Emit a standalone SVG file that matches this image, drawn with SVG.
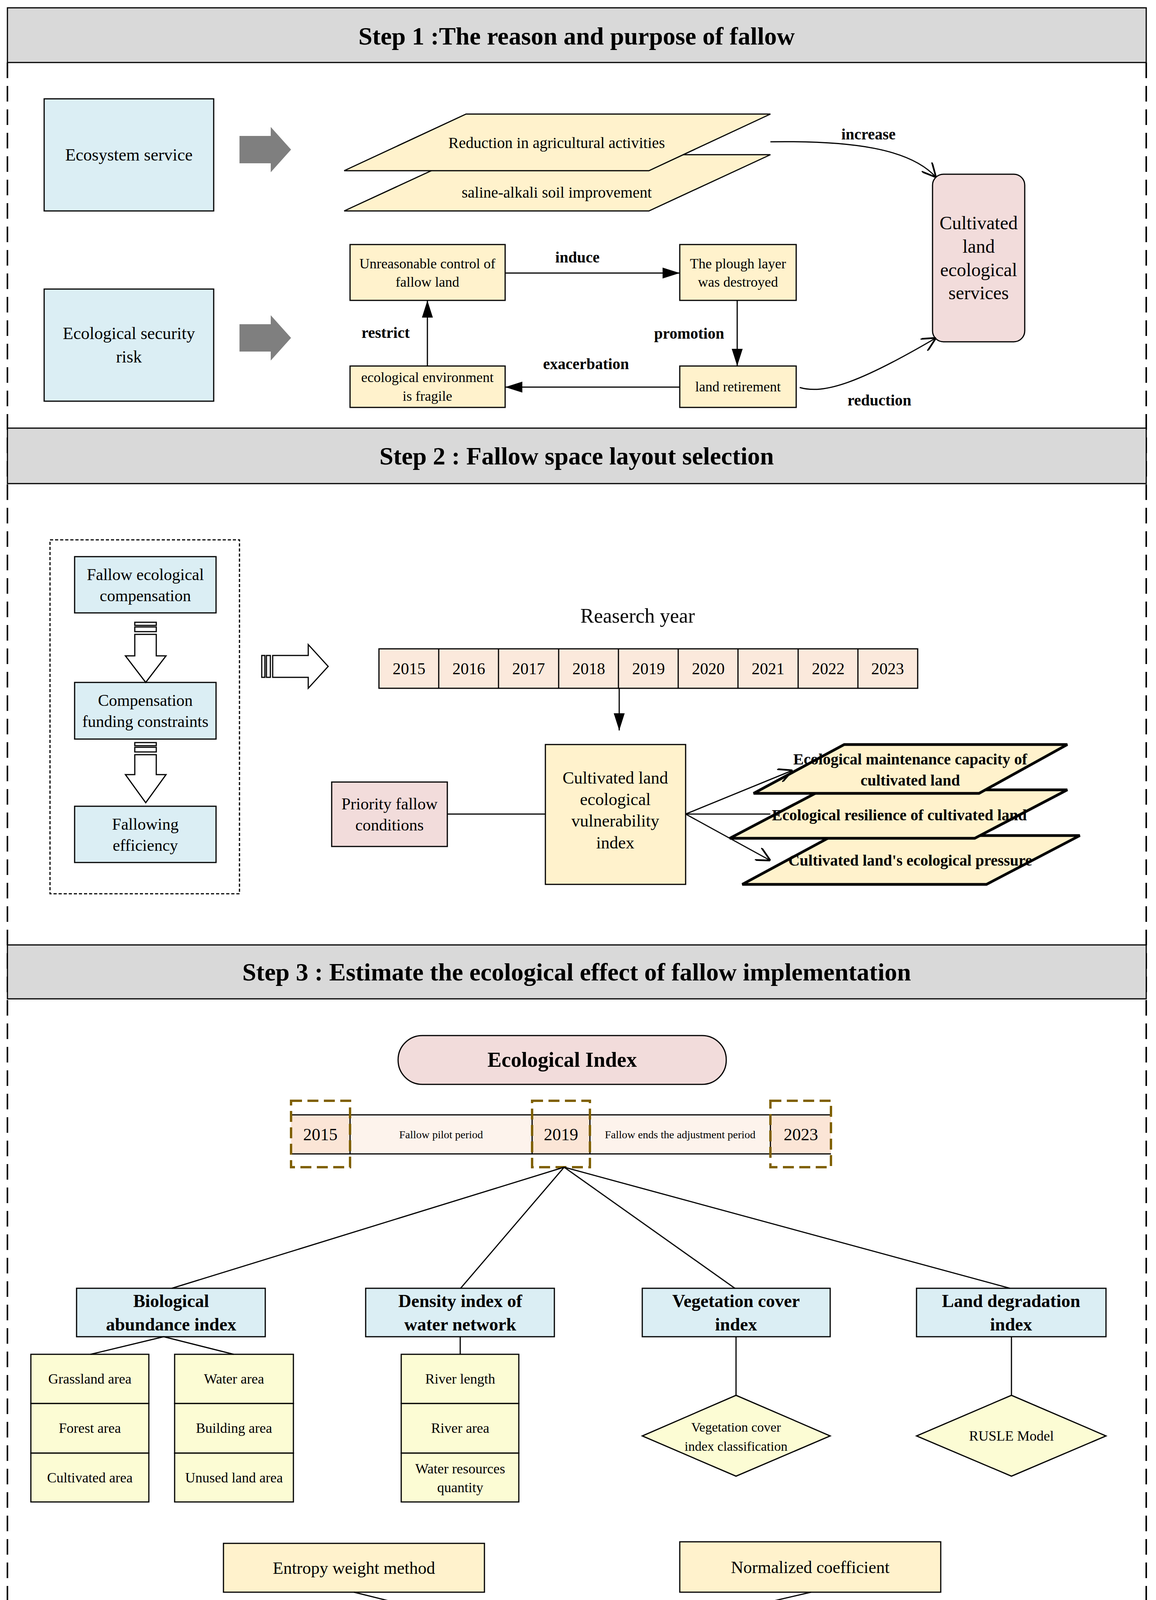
<svg xmlns="http://www.w3.org/2000/svg" width="2959" height="5550" viewBox="0 0 2959 5550">
<defs>
<style>
text{font-family:"Liberation Serif","Times New Roman",serif;text-anchor:middle;dominant-baseline:central;fill:#000}
.hd{fill:#d9d9d9;stroke:#000;stroke-width:3}
.ht{font-size:64px;font-weight:bold}
.blue{fill:#dbeef4;stroke:#000;stroke-width:3}
.yel{fill:#fff2cc;stroke:#000;stroke-width:3}
.ly{fill:#fcfcd4;stroke:#000;stroke-width:3}
.pink{fill:#f2dcdb;stroke:#000;stroke-width:3}
.peach{fill:#fbe9dc;stroke:#000;stroke-width:3}
.ln{fill:none;stroke:#000;stroke-width:3}
.thk{fill:none;stroke:#000;stroke-width:6}
.b{font-weight:bold}
.dash{fill:none;stroke:#000;stroke-width:4;stroke-dasharray:40 20}
.brown{fill:none;stroke:#7f6000;stroke-width:6;stroke-dasharray:28 14}
.hollow{fill:#fff;stroke:#000;stroke-width:3}
</style>
<marker id="ab" viewBox="0 0 10 10" refX="10" refY="5" markerWidth="44" markerHeight="28" markerUnits="userSpaceOnUse" orient="auto" preserveAspectRatio="none"><path d="M0,0 L10,5 L0,10 z" fill="#000"/></marker>
<marker id="ao" viewBox="0 0 10 10" refX="10" refY="5" markerWidth="36" markerHeight="36" markerUnits="userSpaceOnUse" orient="auto"><path d="M0,0 L10,5 L0,10" fill="none" stroke="#000" stroke-width="1.2"/></marker>
</defs>
<rect width="2959" height="5550" fill="#fff"/>
<g id="frame">
<line class="dash" x1="19" y1="160" x2="19" y2="5520"/>
<line class="dash" x1="2934" y1="160" x2="2934" y2="5520"/>
<line class="dash" x1="19" y1="5520" x2="2934" y2="5520"/>
</g>
<g id="header1"><rect class="hd" x="19" y="20" width="2915" height="140"/><text class="ht" x="1476" y="92">Step 1 :The reason and purpose of fallow</text></g>
<g id="header2"><rect class="hd" x="19" y="1096" width="2915" height="142"/><text class="ht" x="1476" y="1167">Step 2 : Fallow space layout selection</text></g>
<g id="header3"><rect class="hd" x="19" y="2419" width="2915" height="138"/><text class="ht" x="1476" y="2488">Step 3 : Estimate the ecological effect of fallow implementation</text></g>

<g id="ecoservice"><rect class="blue" x="113" y="253" width="434" height="287"/><text x="330" y="396" font-size="44">Ecosystem service</text></g>
<g id="ecorisk"><rect class="blue" x="113" y="740" width="434" height="287"/><text x="330" y="853" font-size="44">Ecological security</text><text x="330" y="913" font-size="44">risk</text></g>
<g id="grayarrow1"><path d="M613,348 H693 V325 L745,383 L693,441 V418 H613 Z" fill="#7f7f7f"/></g>
<g id="grayarrow2"><path d="M613,830 H693 V807 L745,865 L693,923 V900 H613 Z" fill="#7f7f7f"/></g>
<g id="saline"><path class="yel" d="M881,540 L1193,396 L1972,396 L1661,540 Z"/><text x="1425" y="492" font-size="40">saline-alkali soil improvement</text></g>
<g id="reduction"><path class="yel" d="M881,437 L1193,292 L1972,292 L1661,437 Z"/><text x="1425" y="365" font-size="40">Reduction in agricultural activities</text></g>
<g id="cles"><rect class="pink" x="2387" y="446" width="236" height="429" rx="28"/><text x="2505" y="570" font-size="48">Cultivated</text><text x="2505" y="630" font-size="48">land</text><text x="2505" y="690" font-size="48">ecological</text><text x="2505" y="749" font-size="48">services</text></g>
<g id="unreasonable"><rect class="yel" x="896" y="626" width="397" height="143"/><text x="1094" y="675" font-size="36">Unreasonable control of</text><text x="1094" y="722" font-size="36">fallow land</text></g>
<g id="plough"><rect class="yel" x="1740" y="626" width="298" height="143"/><text x="1889" y="675" font-size="36">The plough layer</text><text x="1889" y="722" font-size="36">was destroyed</text></g>
<g id="retire"><rect class="yel" x="1740" y="937" width="298" height="106"/><text x="1889" y="990" font-size="36">land retirement</text></g>
<g id="fragile"><rect class="yel" x="896" y="937" width="397" height="106"/><text x="1094" y="966" font-size="36">ecological environment</text><text x="1094" y="1014" font-size="36">is fragile</text></g>

<g id="dotbox"><rect x="128" y="1382" width="485" height="906" fill="none" stroke="#000" stroke-width="3" stroke-dasharray="8 5"/></g>
<g id="fec"><rect class="blue" x="191" y="1425" width="362" height="144"/><text x="372" y="1471" font-size="42">Fallow ecological</text><text x="372" y="1525" font-size="42">compensation</text></g>
<g id="cfc"><rect class="blue" x="191" y="1747" width="362" height="145"/><text x="372" y="1793" font-size="42">Compensation</text><text x="372" y="1847" font-size="42">funding constraints</text></g>
<g id="fe"><rect class="blue" x="191" y="2064" width="362" height="144"/><text x="372" y="2110" font-size="42">Fallowing</text><text x="372" y="2164" font-size="42">efficiency</text></g>
<g id="harrow1"><rect class="hollow" x="345" y="1593" width="55" height="8"/><rect class="hollow" x="345" y="1605" width="55" height="12"/><path class="hollow" d="M345,1624 H400 V1679 H425 L373,1747 L321,1679 H345 Z"/></g>
<g id="harrow2"><rect class="hollow" x="345" y="1901" width="55" height="8"/><rect class="hollow" x="345" y="1913" width="55" height="12"/><path class="hollow" d="M345,1932 H400 V1983 H425 L373,2055 L321,1983 H345 Z"/></g>
<g id="harrow3"><rect class="hollow" x="670" y="1678" width="8" height="56"/><rect class="hollow" x="682" y="1678" width="10" height="56"/><path class="hollow" d="M698,1678 V1734 H789 V1762 L840,1706 L789,1650 V1678 Z"/></g>
<g id="ryear"><text x="1632" y="1576" font-size="52">Reaserch year</text></g>
<g id="years">
<rect class="peach" x="970" y="1661" width="1379" height="101"/>
<g class="ln"><line x1="1123" y1="1661" x2="1123" y2="1762"/><line x1="1276" y1="1661" x2="1276" y2="1762"/><line x1="1430" y1="1661" x2="1430" y2="1762"/><line x1="1583" y1="1661" x2="1583" y2="1762"/><line x1="1736" y1="1661" x2="1736" y2="1762"/><line x1="1889" y1="1661" x2="1889" y2="1762"/><line x1="2043" y1="1661" x2="2043" y2="1762"/><line x1="2196" y1="1661" x2="2196" y2="1762"/></g>
<g font-size="42"><text x="1047" y="1712">2015</text><text x="1200" y="1712">2016</text><text x="1353" y="1712">2017</text><text x="1507" y="1712">2018</text><text x="1660" y="1712">2019</text><text x="1813" y="1712">2020</text><text x="1966" y="1712">2021</text><text x="2120" y="1712">2022</text><text x="2272" y="1712">2023</text></g>
</g>
<g id="clevi"><rect class="yel" x="1396" y="1906" width="359" height="358"/><text x="1575" y="1991" font-size="44">Cultivated land</text><text x="1575" y="2046" font-size="44">ecological</text><text x="1575" y="2101" font-size="44">vulnerability</text><text x="1575" y="2157" font-size="44">index</text></g>
<g id="priority"><rect class="pink" x="849" y="2002" width="296" height="165"/><text x="997" y="2058" font-size="42">Priority fallow</text><text x="997" y="2112" font-size="42">conditions</text></g>
<g id="pressure"><path fill="#fff2cc" stroke="#000" stroke-width="7" d="M1900,2264 L2132,2139 L2764,2139 L2525,2264 Z"/><text class="b" x="2330" y="2202" font-size="40">Cultivated land's ecological pressure</text></g>
<g id="resilience"><path fill="#fff2cc" stroke="#000" stroke-width="7" d="M1868,2146 L2104,2022 L2732,2022 L2495,2146 Z"/><text class="b" x="2302" y="2086" font-size="40">Ecological resilience of cultivated land</text></g>
<g id="maintenance"><path fill="#fff2cc" stroke="#000" stroke-width="7" d="M1929,2031 L2161,1906 L2732,1906 L2506,2031 Z"/><text class="b" x="2330" y="1943" font-size="40">Ecological maintenance capacity of</text><text class="b" x="2330" y="1997" font-size="40">cultivated land</text></g>

<g id="ecoindex"><rect class="pink" x="1019" y="2651" width="840" height="125" rx="62"/><text class="b" x="1439" y="2713" font-size="54">Ecological Index</text></g>
<g id="timeline">
<rect x="896" y="2854" width="1076" height="100" fill="#fdf3ec"/>
<rect x="745" y="2854" width="151" height="100" fill="#fbe5d6"/>
<rect x="1362" y="2854" width="148" height="100" fill="#fbe5d6"/>
<rect x="1972" y="2854" width="155" height="100" fill="#fbe5d6"/>
<line class="ln" x1="745" y1="2854" x2="2127" y2="2854" stroke-width="5"/>
<line class="ln" x1="745" y1="2954" x2="2127" y2="2954" stroke-width="5"/>
<g class="ln" stroke-width="2"><line x1="896" y1="2854" x2="896" y2="2954"/><line x1="1362" y1="2854" x2="1362" y2="2954"/><line x1="1510" y1="2854" x2="1510" y2="2954"/><line x1="1972" y1="2854" x2="1972" y2="2954"/></g>
<text x="820" y="2904" font-size="44">2015</text><text x="1129" y="2904" font-size="28">Fallow pilot period</text><text x="1436" y="2904" font-size="44">2019</text><text x="1741" y="2904" font-size="28">Fallow ends the adjustment period</text><text x="2050" y="2904" font-size="44">2023</text>
<rect class="brown" x="745" y="2818" width="151" height="170"/><rect class="brown" x="1362" y="2818" width="148" height="170"/><rect class="brown" x="1972" y="2818" width="155" height="170"/>
</g>
<g id="bio"><rect class="blue" x="196" y="3298" width="483" height="124"/><text class="b" x="438" y="3330" font-size="46">Biological</text><text class="b" x="438" y="3390" font-size="46">abundance index</text></g>
<g id="density"><rect class="blue" x="936" y="3298" width="483" height="124"/><text class="b" x="1178" y="3330" font-size="46">Density index of</text><text class="b" x="1178" y="3390" font-size="46">water network</text></g>
<g id="veg"><rect class="blue" x="1644" y="3298" width="481" height="124"/><text class="b" x="1884" y="3330" font-size="46">Vegetation cover</text><text class="b" x="1884" y="3390" font-size="46">index</text></g>
<g id="landdeg"><rect class="blue" x="2346" y="3298" width="485" height="124"/><text class="b" x="2588" y="3330" font-size="46">Land degradation</text><text class="b" x="2588" y="3390" font-size="46">index</text></g>
<g id="bioitems">
<rect class="ly" x="79" y="3467" width="302" height="126"/><text x="230" y="3530" font-size="36">Grassland area</text>
<rect class="ly" x="79" y="3593" width="302" height="127"/><text x="230" y="3656" font-size="36">Forest area</text>
<rect class="ly" x="79" y="3720" width="302" height="125"/><text x="230" y="3783" font-size="36">Cultivated area</text>
<rect class="ly" x="447" y="3467" width="304" height="126"/><text x="599" y="3530" font-size="36">Water area</text>
<rect class="ly" x="447" y="3593" width="304" height="127"/><text x="599" y="3656" font-size="36">Building area</text>
<rect class="ly" x="447" y="3720" width="304" height="125"/><text x="599" y="3783" font-size="36">Unused land area</text>
</g>
<g id="waterItems">
<rect class="ly" x="1027" y="3467" width="301" height="126"/><text x="1178" y="3530" font-size="36">River length</text>
<rect class="ly" x="1027" y="3593" width="301" height="127"/><text x="1178" y="3656" font-size="36">River area</text>
<rect class="ly" x="1027" y="3720" width="301" height="125"/><text x="1178" y="3760" font-size="36">Water resources</text><text x="1178" y="3808" font-size="36">quantity</text>
</g>
<g id="vegdiamond"><path class="ly" d="M1884,3572 L2125,3676 L1884,3779 L1644,3676 Z"/><text x="1884" y="3653" font-size="34">Vegetation cover</text><text x="1884" y="3702" font-size="34">index classification</text></g>
<g id="rusle"><path class="ly" d="M2589,3572 L2831,3676 L2589,3779 L2346,3676 Z"/><text x="2589" y="3676" font-size="36">RUSLE Model</text></g>
<g id="entropy"><rect class="yel" x="572" y="3951" width="668" height="125"/><text x="906" y="4014" font-size="44">Entropy weight method</text></g>
<g id="normalized"><rect class="yel" x="1740" y="3947" width="668" height="129"/><text x="2074" y="4012" font-size="44">Normalized coefficient</text></g>
<g id="plot"><path class="blue" d="M938,4405 L1227,4216 L1947,4216 L1661,4405 Z"/><text x="1444" y="4312" font-size="60">Plot scale</text></g>
<g id="grayarrow3"><path d="M1393,4434 H1447 V4468 H1472 L1420,4521 L1368,4468 H1393 Z" fill="#7f7f7f"/></g>
<g id="regional"><path class="blue" d="M862,4754 L1151,4547 L1874,4547 L1585,4754 Z"/><text x="1368" y="4652" font-size="60">Regional scale</text></g>
<g id="guyuan"><rect class="yel" x="175" y="4863" width="531" height="207"/><text x="440" y="4967" font-size="52">Guyuan county</text></g>
<g id="fengzhen"><rect class="yel" x="1174" y="4863" width="528" height="207"/><text x="1438" y="4967" font-size="52">Fengzhen city</text></g>
<g id="huan"><rect class="yel" x="2170" y="4863" width="528" height="207"/><text x="2434" y="4967" font-size="52">Huan county</text></g>
<g id="bth"><rect class="ly" x="175" y="5179" width="531" height="189" rx="55"/><text x="440" y="5246" font-size="46">Beijing-Tianjin-Hebei</text><text x="440" y="5310" font-size="46">water conservation area</text></g>
<g id="desert"><rect class="ly" x="1174" y="5179" width="528" height="189" rx="55"/><text x="1438" y="5209" font-size="46">Desertification</text><text x="1438" y="5275" font-size="46">degradation area along</text><text x="1438" y="5340" font-size="46">the Great Wall</text></g>
<g id="loess"><rect class="ly" x="2170" y="5179" width="528" height="189" rx="55"/><text x="2434" y="5276" font-size="46">Loess hill and gully are</text></g>

<g id="connectors">
<path class="ln" d="M1972,363 C2180,360 2330,380 2396,454" marker-end="url(#ao)"/>
<text class="b" x="2223" y="343" font-size="40">increase</text>
<path class="ln" d="M2047,992 C2110,1010 2200,980 2396,865" marker-end="url(#ao)"/>
<text class="b" x="2251" y="1024" font-size="40">reduction</text>
<line class="ln" x1="1293" y1="699" x2="1740" y2="699" marker-end="url(#ab)" stroke-width="5"/>
<text class="b" x="1478" y="658" font-size="40">induce</text>
<line class="ln" x1="1887" y1="769" x2="1887" y2="937" marker-end="url(#ab)"/>
<text class="b" x="1764" y="853" font-size="40">promotion</text>
<line class="ln" x1="1740" y1="991" x2="1293" y2="991" marker-end="url(#ab)" stroke-width="5"/>
<text class="b" x="1500" y="931" font-size="40">exacerbation</text>
<line class="ln" x1="1094" y1="937" x2="1094" y2="769" marker-end="url(#ab)"/>
<text class="b" x="987" y="851" font-size="40">restrict</text>
<line class="ln" x1="1585" y1="1762" x2="1585" y2="1870" marker-end="url(#ab)"/>
<line class="ln" x1="1145" y1="2084" x2="1396" y2="2084" stroke-width="5"/>
<path class="ln" d="M1755,2084 L2029,1972" marker-end="url(#ao)" stroke-width="4"/>
<path class="ln" d="M1755,2084 L1972,2084" stroke-width="4"/>
<path class="ln" d="M1755,2084 L1868,2146 L1972,2203" marker-end="url(#ao)" stroke-width="4"/>
<line class="ln" x1="1444" y1="2988" x2="440" y2="3298" stroke-width="2"/>
<line class="ln" x1="1444" y1="2988" x2="1179" y2="3298" stroke-width="2"/>
<line class="ln" x1="1444" y1="2988" x2="1881" y2="3298" stroke-width="2"/>
<line class="ln" x1="1444" y1="2988" x2="2585" y2="3298" stroke-width="2"/>
<line class="ln" x1="419" y1="3422" x2="232" y2="3467"/>
<line class="ln" x1="419" y1="3422" x2="598" y2="3467"/>
<line class="ln" x1="1178" y1="3422" x2="1178" y2="3467"/>
<line class="ln" x1="1884" y1="3422" x2="1884" y2="3572"/>
<line class="ln" x1="2589" y1="3422" x2="2589" y2="3572"/>
<line class="ln" x1="906" y1="4076" x2="1472" y2="4216"/>
<line class="ln" x1="2076" y1="4076" x2="1472" y2="4216"/>
<path class="ln" d="M1004,4650 C750,4670 520,4720 462,4807" marker-end="url(#ab)" stroke-width="4"/>
<path class="ln" d="M1368,4758 C1370,4800 1380,4840 1438,4863" marker-end="url(#ab)" stroke-width="4"/>
<path class="ln" d="M1732,4652 C2000,4690 2330,4740 2425,4811" marker-end="url(#ab)" stroke-width="4"/>
<line class="ln" x1="440" y1="5070" x2="440" y2="5179"/>
<line class="ln" x1="1438" y1="5070" x2="1438" y2="5179"/>
<line class="ln" x1="2434" y1="5070" x2="2434" y2="5179"/>
</g>
</svg>
